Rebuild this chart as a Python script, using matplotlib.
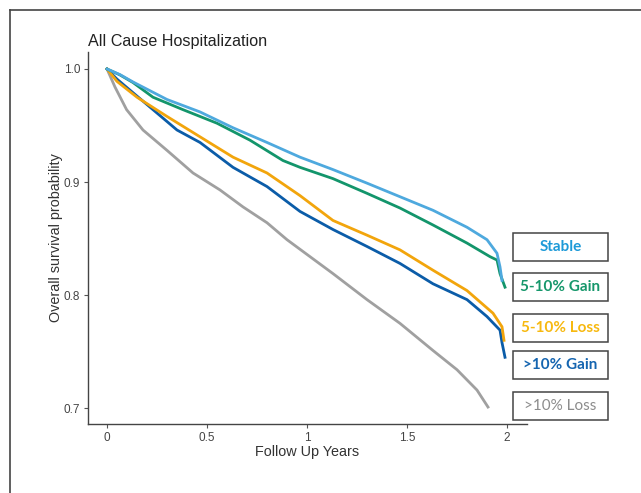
import matplotlib.pyplot as plt
from matplotlib.patches import Rectangle
from matplotlib.lines import Line2D

W, H = 641, 493

# Kaplan-Meier style curves (years, survival probability)
stable_x = [0, 0.065, 0.13, 0.30, 0.465, 0.63, 0.80, 0.965, 1.13, 1.30, 1.465, 1.63, 1.80, 1.90, 1.95, 1.965, 1.975]
stable_y = [1.0, 0.995, 0.9885, 0.973, 0.962, 0.948, 0.935, 0.922, 0.911, 0.899, 0.887, 0.875, 0.860, 0.849, 0.837, 0.825, 0.813]

gain5_x = [0, 0.065, 0.13, 0.23, 0.38, 0.55, 0.715, 0.88, 0.965, 1.13, 1.30, 1.465, 1.63, 1.80, 1.915, 1.95, 1.965, 1.99]
gain5_y = [1.0, 0.9947, 0.988, 0.975, 0.964, 0.952, 0.937, 0.919, 0.913, 0.903, 0.890, 0.877, 0.862, 0.846, 0.834, 0.831, 0.819, 0.807]

loss5_x = [0, 0.05, 0.15, 0.30, 0.465, 0.63, 0.80, 0.965, 1.13, 1.30, 1.465, 1.63, 1.80, 1.93, 1.975, 1.985]
loss5_y = [1.0, 0.989, 0.975, 0.958, 0.940, 0.922, 0.908, 0.888, 0.866, 0.853, 0.840, 0.822, 0.804, 0.784, 0.772, 0.760]

gain10_x = [0, 0.05, 0.13, 0.23, 0.35, 0.465, 0.63, 0.80, 0.965, 1.13, 1.30, 1.465, 1.63, 1.80, 1.90, 1.965, 1.975, 1.99]
gain10_y = [1.0, 0.991, 0.979, 0.964, 0.946, 0.935, 0.913, 0.896, 0.874, 0.858, 0.843, 0.828, 0.810, 0.796, 0.781, 0.769, 0.758, 0.745]

loss10_x = [0, 0.04, 0.098, 0.18, 0.30, 0.43, 0.565, 0.68, 0.80, 0.90, 1.015, 1.13, 1.30, 1.465, 1.63, 1.75, 1.85, 1.905]
loss10_y = [1.0, 0.984, 0.964, 0.946, 0.928, 0.908, 0.893, 0.878, 0.864, 0.849, 0.834, 0.819, 0.796, 0.775, 0.751, 0.734, 0.716, 0.701]

labels = ["Stable", "5-10% Gain", "5-10% Loss", ">10% Gain", ">10% Loss"]
line_colors = ["#4ea9de", "#13956b", "#f2a50c", "#0b5ca8", "#a0a0a0"]
text_colors = ["#1d9ad8", "#16976b", "#f7b910", "#1565b0", "#8c8c8c"]
text_weights = ["bold", "bold", "bold", "bold", "normal"]

x_ticks = [0, 0.5, 1, 1.5, 2]
x_tick_labels = ["0", "0.5", "1", "1.5", "2"]
y_ticks = [0.7, 0.8, 0.9, 1.0]
y_tick_labels = ["0.7", "0.8", "0.9", "1.0"]

plt.rcParams['font.family'] = ['Liberation Sans', 'DejaVu Sans']

fig = plt.figure(figsize=(W / 100, H / 100), dpi=100)
ax = fig.add_axes([88 / W, 1 - 424 / H, (527 - 88) / W, (424 - 52) / H])

series = [(stable_x, stable_y), (gain5_x, gain5_y), (loss5_x, loss5_y),
          (gain10_x, gain10_y), (loss10_x, loss10_y)]
# draw grey first so the others sit on top
for i in [4, 3, 2, 1, 0]:
    xs, ys = series[i]
    ax.plot(xs, ys, color=line_colors[i], lw=2.0)

ax.set_xlim(-0.095, 2.1)
ax.set_ylim(0.686, 1.015)
ax.set_xticks(x_ticks)
ax.set_xticklabels(x_tick_labels)
ax.set_yticks(y_ticks)
ax.set_yticklabels(y_tick_labels)
ax.tick_params(length=3, width=0.8, color="#555555", labelsize=8.5, labelcolor="#444444", pad=2.5)
for side in ["top", "right"]:
    ax.spines[side].set_visible(False)
for side in ["left", "bottom"]:
    ax.spines[side].set_color("#444444")
    ax.spines[side].set_linewidth(1.0)

ax.set_xlabel("Follow Up Years", fontsize=10.4, color="#333333", labelpad=1)
ax.set_ylabel("Overall survival probability", fontsize=10.4, color="#333333")
ax.yaxis.set_label_coords(-0.058, 0.5)

# title aligned with the left edge of the panel
ax.set_title("All Cause Hospitalization", fontsize=11.6, color="#222222", loc="left", pad=4)

# legend boxes on the right
box_tops = [233, 273, 314, 351, 392]
box_h = 28
for lab, top, tc, tw in zip(labels, box_tops, text_colors, text_weights):
    fig.patches.append(Rectangle((513 / W, 1 - (top + box_h) / H), 95 / W, box_h / H,
                                 transform=fig.transFigure, fill=False,
                                 edgecolor="#444444", lw=1.1))
    fig.text(560.5 / W, 1 - (top + box_h / 2) / H, lab, fontsize=11, color=tc,
             fontweight=tw, family=['Lato', 'DejaVu Sans'], ha="center", va="center")

# outer frame (left and top edges visible)
fig.lines.append(Line2D([10 / W, 10 / W], [0, 1 - 10 / H], transform=fig.transFigure,
                        color="#444444", lw=1.2))
fig.lines.append(Line2D([10 / W, 1], [1 - 10 / H, 1 - 10 / H], transform=fig.transFigure,
                        color="#444444", lw=1.2))

fig.savefig("out.png", dpi=100)
